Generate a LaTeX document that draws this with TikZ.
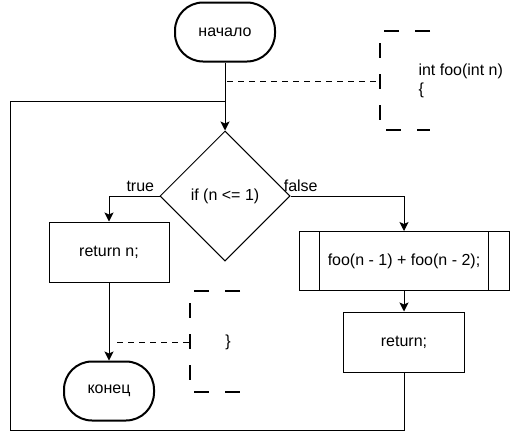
\documentclass[tikz,border=0pt]{standalone}
\usepackage{fontspec}
\setmainfont{Liberation Sans}
\usetikzlibrary{positioning, shapes.geometric, arrows.meta}

\begin{document}
\begin{tikzpicture}[x=1pt, y=-1pt, font=\fontsize{16}{19}\selectfont,
    >={Stealth[length=9pt, width=9pt, inset=2pt]},
    line width=1pt,
    term/.style={draw, line width=2pt, rectangle, rounded corners=28pt, minimum height=59pt},
    stepbox/.style={draw, rectangle, minimum width=120pt, minimum height=60pt},
    decision/.style={draw, diamond, aspect=1, minimum width=130pt, minimum height=130pt, inner sep=0pt},
    bracket/.style={line width=2pt, dash pattern=on 15pt off 16pt},
    dashline/.style={line width=1pt, dash pattern=on 6pt off 5pt}]
    \useasboundingbox (0,0) rectangle (510,442);

    \node[term, minimum width=100pt] (start) at (225,32) {начало};
    \node[decision, below of=start, node distance=164pt] (cond) {if (n <= 1)};
    \node[stepbox] (retn) at (109,252) {return n;};
    \node[term, minimum width=90pt, below of=retn, node distance=139pt] (fin) {конец};
    \node[stepbox, minimum width=210pt, minimum height=59pt] (proc) at (404,261) {foo(n - 1) + foo(n - 2);};
    \node[stepbox, minimum width=121pt, below of=proc, node distance=81pt] (ret) {return;};
    \draw ([xshift=21pt]proc.north west) -- ([xshift=21pt]proc.south west);
    \draw ([xshift=-21pt]proc.north east) -- ([xshift=-21pt]proc.south east);

    % comments
    \coordinate (br1) at (380,31);
    \coordinate (br2) at (190,291);
    \coordinate (c1) at (227,81);
    \coordinate (c2) at (117,342);
    \draw[bracket] ([xshift=50pt]br1) -- (br1) -- ++(0,99) -- ++(50,0);
    \draw[bracket] ([xshift=50pt]br2) -- (br2) -- ++(0,101) -- ++(50,0);
    \node[anchor=west, align=left, inner sep=0pt] (note1) at (418,81) {int foo(int n)\\\{};
    \node[inner sep=0pt] (note2) at (228,342) {\}};
    \draw[dashline] (c1) -- (br1 |- c1);
    \draw[dashline] (c2) -- (br2 |- c2);

    % flow
    \coordinate (join) at (225,101);
    \coordinate (corner) at (10,430);
    \draw[->] (start) -- (cond);
    \draw[->] (cond.west) -| (retn.north) node[pos=0.19, above, inner sep=4pt] {true};
    \draw[->] (cond.east) -| (proc.north) node[pos=0.045, above, inner sep=4pt] {false};
    \draw[->] (retn) -- (fin);
    \draw[->] (proc) -- (ret);
    \draw (ret.south) |- (corner) |- (join);
\end{tikzpicture}
\end{document}
